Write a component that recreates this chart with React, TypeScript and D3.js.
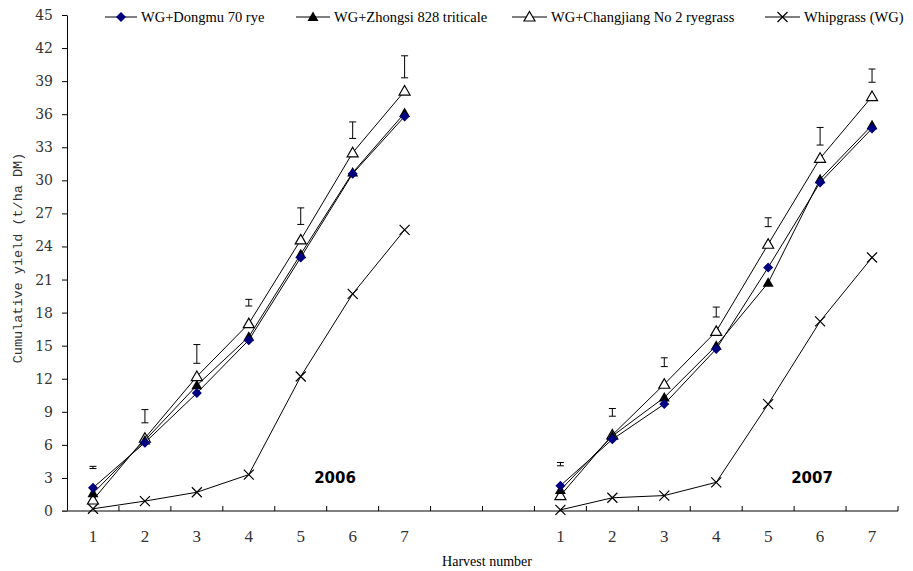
import React, { useEffect, useRef } from "react";
import * as d3 from "d3";

const harvests = ["1", "2", "3", "4", "5", "6", "7"];
const years = ["2006", "2007"];
const yTicks = [0, 3, 6, 9, 12, 15, 18, 21, 24, 27, 30, 33, 36, 39, 42, 45];

const seriesNames = [
  "WG+Dongmu 70 rye",
  "WG+Zhongsi 828 triticale",
  "WG+Changjiang No 2 ryegrass",
  "Whipgrass (WG)",
];

// values per year, harvests 1..7
const dongmu2006 = [2.1, 6.2, 10.7, 15.5, 23.0, 30.6, 35.8];
const dongmu2007 = [2.3, 6.5, 9.7, 14.7, 22.1, 29.8, 34.7];
const zhongsi2006 = [1.6, 6.4, 11.4, 15.8, 23.3, 30.7, 36.1];
const zhongsi2007 = [1.9, 6.8, 10.3, 15.0, 20.7, 30.1, 35.0];
const changjiang2006 = [1.0, 6.6, 12.2, 17.0, 24.6, 32.5, 38.1];
const changjiang2007 = [1.4, 6.9, 11.5, 16.3, 24.2, 32.0, 37.6];
const whipgrass2006 = [0.2, 0.9, 1.7, 3.3, 12.2, 19.7, 25.5];
const whipgrass2007 = [0.1, 1.2, 1.4, 2.6, 9.7, 17.2, 23.0];

// error bars [low, high]
const err2006 = [[3.85, 4.05], [8.0, 9.2], [13.4, 15.1], [18.6, 19.2], [26.0, 27.5], [33.8, 35.3], [39.3, 41.3]];
const err2007 = [[4.1, 4.4], [8.6, 9.3], [13.1, 13.9], [17.6, 18.5], [25.8, 26.6], [33.2, 34.8], [38.9, 40.1]];

const App = () => {
  const svgRef = useRef<SVGSVGElement | null>(null);

  useEffect(() => {
    drawChart();
  }, []);

  const drawChart = () => {
    const width = 913;
    const height = 571;
    const svg = d3.select(svgRef.current).attr("width", width).attr("height", height);
    svg.selectAll("*").remove();

    const keys = [
      ...harvests.map((h) => "a" + h),
      "gap1",
      "gap2",
      ...harvests.map((h) => "b" + h),
    ];
    const x = d3.scaleBand().domain(keys).range([67, 898]);
    const cx = (k: string) => (x(k) as number) + x.bandwidth() / 2;
    const y = d3.scaleLinear().domain([0, 45]).range([511, 15]);

    const serif = "'Liberation Serif', 'Times New Roman', serif";

    // y axis
    const yAxis = svg
      .append("g")
      .attr("transform", "translate(67,0)")
      .call(d3.axisLeft(y).tickValues(yTicks).tickSize(5).tickSizeOuter(0));
    yAxis.select(".domain").attr("stroke", "#000");
    yAxis.selectAll(".tick line").attr("stroke", "#000");
    yAxis
      .selectAll(".tick text")
      .attr("x", -14)
      .style("font-family", "'DejaVu Serif', serif")
      .style("font-size", "14px")
      .attr("fill", "#333");

    // x axis
    const xg = svg.append("g");
    xg.append("line")
      .attr("x1", 62)
      .attr("x2", 898)
      .attr("y1", y(0))
      .attr("y2", y(0))
      .attr("stroke", "#555")
      .attr("stroke-width", 1.5);
    const bounds = keys.map((k) => (x(k) as number) + x.bandwidth());
    xg.selectAll("line.tk")
      .data(bounds)
      .enter()
      .append("line")
      .attr("class", "tk")
      .attr("x1", (d) => d)
      .attr("x2", (d) => d)
      .attr("y1", y(0) - 5)
      .attr("y2", y(0))
      .attr("stroke", "#000");
    const labelKeys = keys.filter((k) => !k.startsWith("gap"));
    xg.selectAll("text.lbl")
      .data(labelKeys)
      .enter()
      .append("text")
      .attr("class", "lbl")
      .attr("x", (d) => cx(d))
      .attr("y", 542)
      .attr("text-anchor", "middle")
      .style("font-family", serif)
      .style("font-size", "17px")
      .attr("fill", "#333")
      .text((d) => d.slice(1));

    // axis titles
    svg
      .append("text")
      .attr("x", 487)
      .attr("y", 566)
      .attr("text-anchor", "middle")
      .style("font-family", serif)
      .style("font-size", "14px")
      .text("Harvest number");
    svg
      .append("text")
      .attr("transform", "rotate(-90)")
      .attr("x", -258)
      .attr("y", 22)
      .attr("text-anchor", "middle")
      .style("font-family", "'Liberation Mono', 'DejaVu Sans Mono', monospace")
      .style("font-size", "13.5px")
      .attr("fill", "#333")
      .text("Cumulative yield (t/ha DM)");

    const groups = [
      { prefix: "a", year: years[0], data: [dongmu2006, zhongsi2006, changjiang2006, whipgrass2006], err: err2006 },
      { prefix: "b", year: years[1], data: [dongmu2007, zhongsi2007, changjiang2007, whipgrass2007], err: err2007 },
    ];

    const diamond = "M0,-5L5,0L0,5L-5,0Z";
    const triangle = "M0,-5.5L5.5,4L-5.5,4Z";
    const cross = "M-5,-5L5,5M5,-5L-5,5";

    const drawMarker = (g: any, i: number, px: number, py: number) => {
      const t = `translate(${px},${py})`;
      if (i === 0) g.append("path").attr("d", diamond).attr("transform", t).attr("fill", "#000080");
      else if (i === 1) g.append("path").attr("d", triangle).attr("transform", t).attr("fill", "#000");
      else if (i === 2)
        g.append("path").attr("d", triangle).attr("transform", t).attr("fill", "#fff").attr("stroke", "#000").attr("stroke-width", 1.2);
      else g.append("path").attr("d", cross).attr("transform", t).attr("fill", "none").attr("stroke", "#000").attr("stroke-width", 1.2);
    };

    groups.forEach((grp) => {
      const g = svg.append("g");
      // error bars
      grp.err.forEach((e, i) => {
        const px = cx(grp.prefix + harvests[i]);
        g.append("line").attr("x1", px).attr("x2", px).attr("y1", y(e[0])).attr("y2", y(e[1])).attr("stroke", "#000");
        [e[0], e[1]].forEach((v) => {
          g.append("line")
            .attr("x1", px - 3.5)
            .attr("x2", px + 3.5)
            .attr("y1", y(v))
            .attr("y2", y(v))
            .attr("stroke", "#000");
        });
      });
      // lines (whipgrass first, then the mixtures)
      [3, 0, 1, 2].forEach((si) => {
        const ln = d3
          .line<number>()
          .x((_, i) => cx(grp.prefix + harvests[i]))
          .y((d) => y(d));
        g.append("path").attr("d", ln(grp.data[si])).attr("fill", "none").attr("stroke", "#000").attr("stroke-width", 1);
      });
      [3, 2, 1, 0].forEach((si) => {
        grp.data[si].forEach((v, i) => drawMarker(g, si, cx(grp.prefix + harvests[i]), y(v)));
      });
      // year label
      svg
        .append("text")
        .attr("x", grp.prefix === "a" ? 335 : 812)
        .attr("y", 483)
        .attr("text-anchor", "middle")
        .style("font-family", "'DejaVu Sans', sans-serif")
        .style("font-weight", "bold")
        .style("font-size", "15px")
        .text(grp.year);
    });

    // legend
    const legendX = [105, 296, 512, 765];
    const legendW = [32, 34, 35, 35];
    const legend = svg.append("g");
    seriesNames.forEach((name, i) => {
      const lx = legendX[i];
      const ly = 17;
      const w = legendW[i];
      legend.append("line").attr("x1", lx).attr("x2", lx + w).attr("y1", ly).attr("y2", ly).attr("stroke", "#000");
      drawMarker(legend, i, lx + w / 2, ly);
      legend
        .append("text")
        .attr("x", lx + w + 4)
        .attr("y", ly + 5)
        .style("font-family", serif)
        .style("font-size", "14.5px")
        .text(name);
    });
  };

  return <svg ref={svgRef} style={{ position: "absolute", left: 0, top: 0, background: "#fff" }}></svg>;
};

export default App;
